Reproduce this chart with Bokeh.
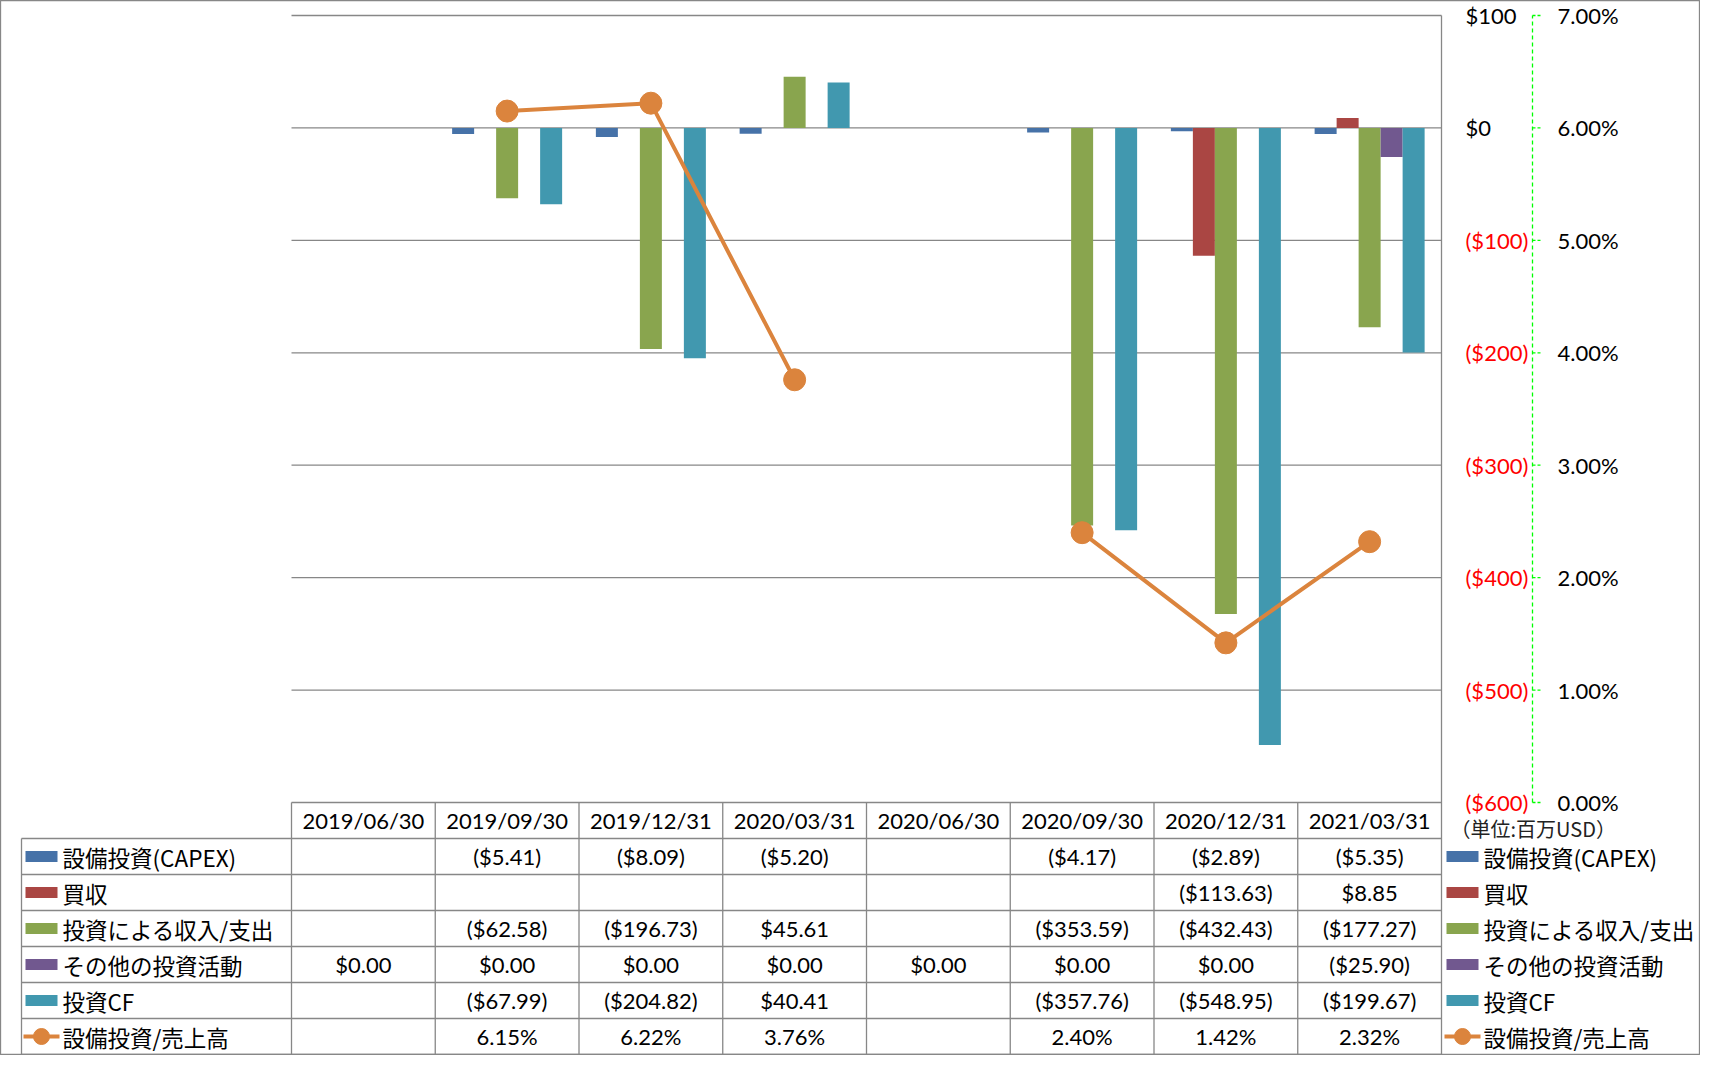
import math
from bokeh.plotting import figure
from bokeh.models import Range1d
from bokeh.core.properties import value
from bokeh.embed import file_html
from bokeh.resources import INLINE

nan = float("nan")

# ---------------- data ----------------
dates = ["2019/06/30", "2019/09/30", "2019/12/31", "2020/03/31",
         "2020/06/30", "2020/09/30", "2020/12/31", "2021/03/31"]
capex = [nan, -5.41, -8.09, -5.20, nan, -4.17, -2.89, -5.35]
acquisition = [nan, nan, nan, nan, nan, nan, -113.63, 8.85]
investment_income = [nan, -62.58, -196.73, 45.61, nan, -353.59, -432.43, -177.27]
other_investing = [0.0, 0.0, 0.0, 0.0, 0.0, 0.0, 0.0, -25.90]
investing_cf = [nan, -67.99, -204.82, 40.41, nan, -357.76, -548.95, -199.67]
capex_to_sales = [nan, 6.15, 6.22, 3.76, nan, 2.40, 1.42, 2.32]

usd_ticks = [100, 0, -100, -200, -300, -400, -500, -600]
usd_tick_labels = ["$100", "$0", "($100)", "($200)", "($300)", "($400)", "($500)", "($600)"]
pct_ticks = [7, 6, 5, 4, 3, 2, 1, 0]
pct_tick_labels = ["7.00%", "6.00%", "5.00%", "4.00%", "3.00%", "2.00%", "1.00%", "0.00%"]

bar_names = ["設備投資(CAPEX)", "買収", "投資による収入/支出", "その他の投資活動", "投資CF"]
line_name = "設備投資/売上高"
unit_label = "（単位:百万USD）"

bar_series = [capex, acquisition, investment_income, other_investing, investing_cf]
bar_colors = ["#4672A8", "#AA4643", "#89A54E", "#71588F", "#4198AF"]
line_color = "#DB843D"
grid_color = "#878787"

# ---------------- layout (pixels) ----------------
W, H = 1700, 1055
PL, PR = 291, 1441          # plot area left/right
PT, PB = 15, 802            # plot area top/bottom ($100 / ($600))
TB = 1054                   # table bottom
LABEL_L = 21                # left border of label column
NROWS = 7
row_h = (TB - PB) / NROWS
ncat = len(dates)
cw = (PR - PL) / ncat
k = (PB - PT) / (usd_ticks[0] - usd_ticks[-1])
usd_start = usd_ticks[-1] - (H - PB) / k
usd_end = usd_ticks[0] + PT / k
pct_start = (usd_start - usd_ticks[-1]) / 100.0
pct_end = (usd_end - usd_ticks[-1]) / 100.0

NUM_FONT = value("Lato")
JP_FONT = value("Noto Sans CJK JP")

p = figure(width=W, height=H, x_range=Range1d(0, W), y_range=Range1d(H, 0),
           output_backend="svg", toolbar_location=None, min_border=0,
           x_axis_type=None, y_axis_type=None)
p.extra_x_ranges = {"cat": Range1d(-PL / cw, (W - PL) / cw)}
p.extra_y_ranges = {"usd": Range1d(usd_start, usd_end),
                    "pct": Range1d(pct_start, pct_end)}
p.outline_line_color = grid_color
p.outline_line_width = 1.3
p.background_fill_color = "white"
p.border_fill_color = "white"

# gridlines
p.segment(x0=[0] * len(usd_ticks), x1=[ncat] * len(usd_ticks), y0=usd_ticks, y1=usd_ticks,
          x_range_name="cat", y_range_name="usd", line_color=grid_color, line_width=1.3)

# table / plot vertical lines
p.segment(x0=[PR], x1=[PR], y0=[PT], y1=[TB], line_color=grid_color, line_width=1.3)
vx = list(range(ncat))
p.segment(x0=vx, x1=vx, y0=[PB] * len(vx), y1=[TB] * len(vx), x_range_name="cat",
          line_color=grid_color, line_width=1.3)
p.segment(x0=[LABEL_L], x1=[LABEL_L], y0=[PB + row_h], y1=[TB], line_color=grid_color, line_width=1.3)
hy = [PB + r * row_h for r in range(1, NROWS + 1)]
p.segment(x0=[LABEL_L] * len(hy), x1=[PR] * len(hy), y0=hy, y1=hy,
          line_color=grid_color, line_width=1.3)

# bars
bw = 22 / cw
for s, (vals, col) in enumerate(zip(bar_series, bar_colors)):
    off = (s - 2) * bw
    xs = [i + 0.5 + off for i, v in enumerate(vals) if not math.isnan(v)]
    tops = [v for v in vals if not math.isnan(v)]
    p.vbar(x=xs, top=tops, bottom=0, width=bw, fill_color=col, line_color=None,
           x_range_name="cat", y_range_name="usd")

# line (secondary axis)
lx = [i + 0.5 for i in range(ncat)]
p.line(x=lx, y=capex_to_sales, line_color=line_color, line_width=4,
       x_range_name="cat", y_range_name="pct")
mx = [i + 0.5 for i, v in enumerate(capex_to_sales) if not math.isnan(v)]
my = [v for v in capex_to_sales if not math.isnan(v)]
p.scatter(x=mx, y=my, size=22, marker="circle", fill_color=line_color, line_color=line_color,
          x_range_name="cat", y_range_name="pct")

# right $ axis labels (left-aligned as in the reference)
p.text(x=[1465] * len(usd_ticks), y=usd_ticks, text=usd_tick_labels,
       text_color=["#FF0000" if t < 0 else "black" for t in usd_ticks],
       y_range_name="usd", text_align="left", text_baseline="middle",
       text_font=NUM_FONT, text_font_size="22px")

# secondary % axis (green dashed)
p.segment(x0=[1532], x1=[1532], y0=[pct_ticks[-1]], y1=[pct_ticks[0]], y_range_name="pct",
          line_color="#00FF00", line_width=1.3, line_dash="4 3")
p.segment(x0=[1532] * len(pct_ticks), x1=[1541] * len(pct_ticks), y0=pct_ticks, y1=pct_ticks,
          y_range_name="pct", line_color="#00FF00", line_width=1.3, line_dash="3 2")
p.text(x=[1557] * len(pct_ticks), y=pct_ticks, text=pct_tick_labels, y_range_name="pct",
       text_align="left", text_baseline="middle", text_font=NUM_FONT, text_font_size="22px",
       text_color="black")

p.text(x=[1450], y=[828], text=[unit_label], text_align="left", text_baseline="middle",
       text_font=JP_FONT, text_font_size="20px", text_color="#222222")

# table header
p.text(x=lx, y=[PB + row_h / 2] * ncat, text=dates, x_range_name="cat",
       text_align="center", text_baseline="middle", text_font=NUM_FONT,
       text_font_size="22px", text_color="black")


def fmt_usd(v):
    if math.isnan(v):
        return ""
    return "(${:.2f})".format(abs(v)) if v < 0 else "${:.2f}".format(v)


def fmt_pct(v):
    return "" if math.isnan(v) else "{:.2f}%".format(v)


rows = [[fmt_usd(v) for v in vals] for vals in bar_series] + [[fmt_pct(v) for v in capex_to_sales]]
for r, row in enumerate(rows):
    yc = PB + (r + 1.5) * row_h
    p.text(x=lx, y=[yc] * ncat, text=row, x_range_name="cat", text_align="center",
           text_baseline="middle", text_font=NUM_FONT, text_font_size="22px", text_color="black")

# legends (left in table, right of chart)
names = bar_names + [line_name]
centers = [PB + (r + 1.5) * row_h for r in range(NROWS - 1)]
for kx, tx in [(41, 62), (1462, 1483)]:
    p.rect(x=[kx] * 5, y=centers[:5], width=32, height=11, fill_color=bar_colors, line_color=None)
    p.segment(x0=[kx - 18], x1=[kx + 18], y0=[centers[5]], y1=[centers[5]],
              line_color=line_color, line_width=4)
    p.scatter(x=[kx], y=[centers[5]], size=16, marker="circle", fill_color=line_color,
              line_color=line_color)
    p.text(x=[tx] * len(names), y=centers, text=names, text_align="left", text_baseline="middle",
           text_font=JP_FONT, text_font_size="22.5px", text_color="black")

open("out.html", "w").write(file_html(p, INLINE))
